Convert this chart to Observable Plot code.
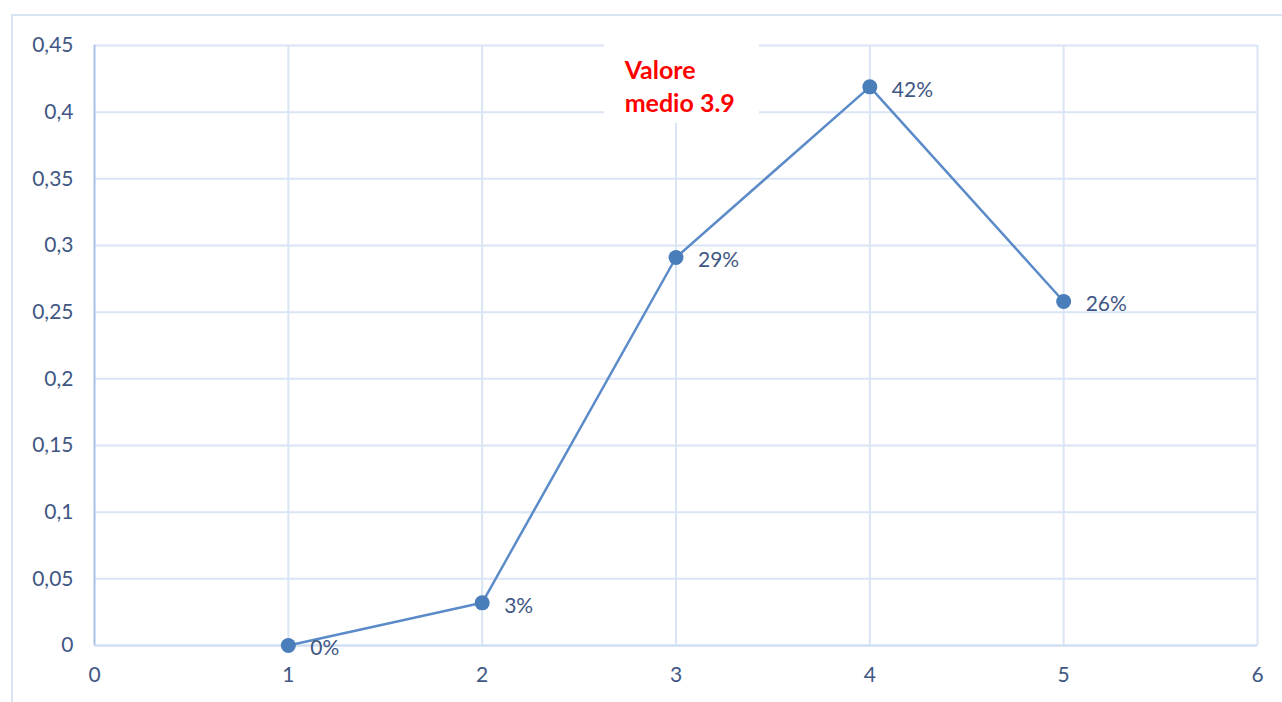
<!DOCTYPE html>
<html>
<head>
<meta charset="utf-8">
<script src="https://cdn.jsdelivr.net/npm/d3@7"></script>
<script src="https://cdn.jsdelivr.net/npm/@observablehq/plot@0.6"></script>
<style>
  html, body { margin: 0; padding: 0; background: #fff; }
  #chart { position: relative; width: 1282px; height: 702px; overflow: hidden; }
  #frame { position: absolute; left: 11px; top: 14px; width: 1400px; height: 800px;
           border: 2px solid #dae5f4; box-sizing: border-box; pointer-events: none; }
  #chart svg { position: absolute; left: 0; top: 0; }
</style>
</head>
<body>
<div id="chart"><div id="frame"></div></div>
<script>
// Distribution of scores 1–5 (share of answers)
const scores = [1, 2, 3, 4, 5];
const shares = [0.0, 0.032, 0.291, 0.419, 0.258];

const xTicks = [0, 1, 2, 3, 4, 5, 6];
const yTicks = [0, 0.05, 0.1, 0.15, 0.2, 0.25, 0.3, 0.35, 0.4, 0.45];

// Annotation: mean score
const noteLines = ["Valore", "medio 3.9"];

const data = scores.map((s, i) => ({score: s, share: shares[i]}));

const textColor = "#3f5784";
const gridColor = "#d9e4f4";
const lineColor = "#5b8bc8";
const dotColor = "#4a7ebb";

const commaFmt = d => String(Math.round(d * 100) / 100).replace(".", ",");
const pctFmt = d3.format(".0%");

const chart = Plot.plot({
  width: 1282,
  height: 702,
  marginLeft: 94,
  marginRight: 25,
  marginTop: 45,
  marginBottom: 57,
  style: {fontFamily: "Lato, 'Open Sans', sans-serif", fontSize: "21px", color: textColor, background: "transparent"},
  x: {domain: [0, 6], ticks: xTicks, tickFormat: d => String(d), tickSize: 0, tickPadding: 22, label: null},
  y: {domain: [0, 0.45], ticks: yTicks, tickFormat: commaFmt, tickSize: 0, tickPadding: 21, label: null},
  marks: [
    Plot.gridY(yTicks, {stroke: gridColor, strokeOpacity: 1, strokeWidth: 2}),
    Plot.gridX(xTicks.slice(1), {stroke: gridColor, strokeOpacity: 1, strokeWidth: 2}),
    Plot.ruleX([0], {stroke: "#a7c2e8", strokeWidth: 2}),
    Plot.ruleY([0], {stroke: "#d0def2", strokeWidth: 2}),
    // white box behind the mean-value note
    Plot.rect([{}], {x1: 2.632, x2: 3.431, y1: 0.3915, y2: 0.4515, fill: "white"}),
    Plot.text([noteLines.join("\n")], {
      x: 2.735, y: 0.4205, text: d => d, textAnchor: "start", lineHeight: 1.32,
      fill: "#ff0000", fontWeight: "bold", fontSize: 25
    }),
    Plot.line(data, {x: "score", y: "share", stroke: lineColor, strokeWidth: 2.5}),
    Plot.dot(data, {x: "score", y: "share", r: 7.5, fill: dotColor, stroke: "none"}),
    Plot.text(data, {
      x: "score", y: "share", text: d => pctFmt(d.share),
      textAnchor: "start", dx: 22, dy: 3, fill: textColor, fontSize: 21
    })
  ]
});

document.getElementById("chart").appendChild(chart);
</script>
</body>
</html>
